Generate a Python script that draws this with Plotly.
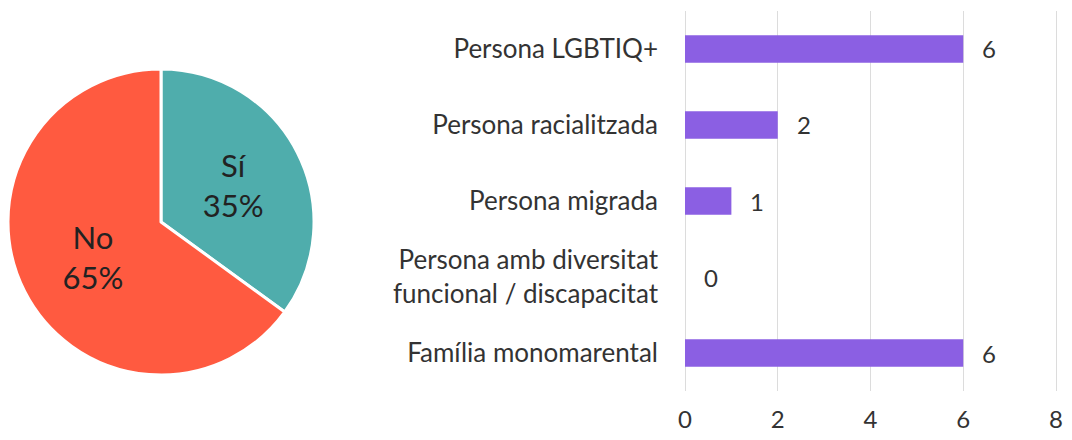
import plotly.graph_objects as go

# Pie data
pie_labels = ["Sí", "No"]
pie_values = [35, 65]
pie_colors = ["#4FADAC", "#FF5A40"]

# Bar data (top to bottom)
bar_categories = [
    "Persona LGBTIQ+",
    "Persona racialitzada",
    "Persona migrada",
    "Persona amb diversitat<br>funcional / discapacitat",
    "Família monomarental",
]
bar_values = [6, 2, 1, 0, 6]
x_ticks = [0, 2, 4, 6, 8]

# the page has an 8px body margin on every side; keep the paper inside the
# window so no scrollbars show up
W, H = 1056, 424

_FAMILY = "Lato, sans-serif"
_FONT = dict(family=_FAMILY, color="#333333", size=26)
_PURPLE = "#8B5FE3"
_GRID = "#DCDCDC"

# x axis: 0 at paper px 677, 8 at paper px 1048, a little slack past 8
_X0, _X8 = 677, 1048
_XMAX = 8.1
_XEND = _X0 + (_X8 - _X0) * _XMAX / 8

fig = go.Figure()

fig.add_trace(go.Pie(
    labels=pie_labels,
    values=pie_values,
    sort=False,
    direction="clockwise",
    rotation=0,
    marker=dict(colors=pie_colors, line=dict(color="white", width=3)),
    texttemplate="%{label}<br>%{percent:.0%}",
    textposition="inside",
    insidetextorientation="horizontal",
    textfont=dict(family=_FAMILY, size=31, color="#222222"),
    domain=dict(x=[0, 306 / W], y=[(H - 367) / H, (H - 61) / H]),
    showlegend=False,
    hoverinfo="label+percent",
))

fig.add_trace(go.Bar(
    x=bar_values,
    y=bar_categories,
    orientation="h",
    marker=dict(color=_PURPLE),
    width=0.36,
    showlegend=False,
))

for cat, val in zip(bar_categories, bar_values):
    fig.add_annotation(
        x=val, y=cat, text=str(val),
        xref="x", yref="y",
        xanchor="left", yanchor="middle",
        xshift=17, showarrow=False,
        font=dict(family=_FAMILY, color="#333333", size=24),
    )

fig.update_layout(
    width=W,
    height=H,
    template="none",
    paper_bgcolor="white",
    plot_bgcolor="white",
    font=_FONT,
    margin=dict(l=0, r=0, t=0, b=0),
    xaxis=dict(
        domain=[_X0 / W, _XEND / W],
        range=[0, _XMAX],
        tickvals=x_ticks,
        showgrid=True,
        gridcolor=_GRID,
        gridwidth=1,
        zeroline=True,
        zerolinecolor=_GRID,
        zerolinewidth=1,
        showline=False,
        ticks="",
        ticklabelstandoff=12,
        ticklabeloverflow="allow",
        automargin=False,
        tickfont=dict(family=_FAMILY, color="#333333", size=24),
    ),
    yaxis=dict(
        domain=[(H - 383) / H, (H - 3) / H],
        autorange="reversed",
        showgrid=False,
        zeroline=False,
        showline=False,
        ticks="",
        ticklabelstandoff=26,
        automargin=False,
        tickfont=_FONT,
    ),
)

fig.write_html("out.html")
